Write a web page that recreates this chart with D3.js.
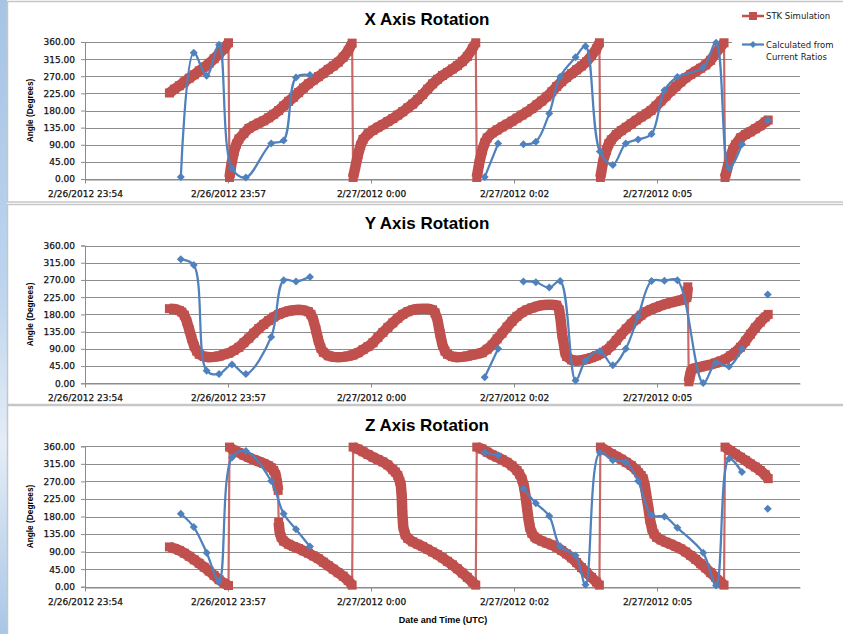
<!DOCTYPE html>
<html>
<head>
<meta charset="utf-8">
<script src="https://cdn.jsdelivr.net/npm/d3@7"></script>
<style>
  body { margin: 0; background: #fff; }
  svg { display: block; }
</style>
</head>
<body>
<div id="chart"></div>
<script>
// minutes after 2/26/2012 23:54, angle in degrees

const tickMinutes = [0, 2.88, 5.76, 8.64, 11.52];
const tickLabels = ["2/26/2012 23:54", "2/26/2012 23:57", "2/27/2012 0:00", "2/27/2012 0:02", "2/27/2012 0:05"];
const angleTicks = [0, 45, 90, 135, 180, 225, 270, 315, 360];
const titles = ["X Axis Rotation", "Y Axis Rotation", "Z Axis Rotation"];
const seriesNames = ["STK Simulation", "Calculated from\nCurrent Ratios"];

// STK simulation, [minute, angle]
const stkX = [
  [1.70,226],[1.80,236],[1.90,245],[2.00,255],[2.10,265],[2.20,274],[2.30,284],[2.40,294],[2.50,304],[2.60,316],[2.70,329],[2.80,342],[2.89,358],
  [2.91,4],[2.95,40],[3.00,72],[3.05,92],[3.10,105],[3.20,120],[3.30,133],[3.40,140],[3.50,147],[3.60,153],[3.70,161],[3.80,170],[3.90,180],[4.00,192],[4.10,204],[4.20,215],[4.30,227],[4.40,239],[4.50,250],[4.60,260],[4.70,269],[4.80,278],[4.90,288],[5.00,297],[5.10,307],[5.20,320],[5.30,337],[5.38,357],
  [5.40,4],[5.45,35],[5.50,65],[5.55,88],[5.60,104],[5.70,119],[5.80,128],[5.90,136],[6.00,143],[6.10,151],[6.20,159],[6.30,168],[6.40,177],[6.50,187],[6.60,197],[6.70,209],[6.80,222],[6.90,236],[7.00,250],[7.10,262],[7.20,272],[7.30,280],[7.40,289],[7.50,298],[7.60,309],[7.70,322],[7.80,342],[7.87,358],
  [7.89,4],[7.94,42],[8.00,75],[8.05,95],[8.10,108],[8.20,121],[8.30,129],[8.40,137],[8.50,144],[8.60,152],[8.70,160],[8.80,168],[8.90,176],[9.00,185],[9.10,195],[9.20,205],[9.30,216],[9.40,229],[9.50,243],[9.60,256],[9.70,267],[9.80,277],[9.90,287],[10.00,297],[10.10,308],[10.20,324],[10.30,342],[10.36,358],
  [10.38,4],[10.44,50],[10.50,75],[10.55,93],[10.60,103],[10.70,117],[10.80,127],[10.90,136],[11.00,145],[11.10,154],[11.20,163],[11.30,171],[11.40,180],[11.50,192],[11.60,205],[11.70,218],[11.80,231],[11.90,243],[12.00,255],[12.10,266],[12.20,275],[12.30,283],[12.40,291],[12.50,300],[12.60,312],[12.70,330],[12.80,347],[12.87,358],
  [12.89,4],[12.94,30],[13.00,58],[13.05,78],[13.10,90],[13.20,108],[13.30,117],[13.40,124],[13.50,132],[13.60,140],[13.70,150],[13.76,155]
];

const stkY = [
  [1.70,195],[1.80,194],[1.90,190],[1.95,186],[2.00,178],[2.05,162],[2.10,140],[2.15,117],[2.20,97],[2.25,84],[2.30,76],[2.40,70],[2.50,68],[2.60,69],[2.70,71],[2.80,75],[2.90,79],
  [3.00,86],[3.10,94],[3.20,106],[3.30,118],[3.40,131],[3.50,143],[3.60,154],[3.70,164],[3.80,173],[3.90,180],[4.00,185],[4.10,189],[4.20,191],[4.30,192],[4.40,191],[4.50,187],
  [4.55,180],[4.60,165],[4.65,140],[4.70,112],[4.75,92],[4.80,81],[4.90,72],[5.00,69],[5.10,68],[5.20,69],[5.30,71],[5.40,74],[5.50,80],[5.60,88],[5.70,96],[5.80,106],[5.90,120],
  [6.00,133],[6.10,146],[6.20,158],[6.30,170],[6.40,180],[6.50,187],[6.60,192],[6.70,194],[6.80,195],[6.90,195],[7.00,192],[7.05,184],[7.10,165],[7.15,130],[7.20,100],[7.25,84],
  [7.30,76],[7.40,70],[7.50,68],[7.60,69],[7.70,71],[7.80,74],[7.90,77],[8.00,80],[8.10,89],[8.20,100],[8.30,116],[8.40,131],[8.50,147],[8.60,162],[8.70,175],[8.80,185],[8.90,192],
  [9.00,197],[9.10,201],[9.20,204],[9.30,205],[9.40,205],[9.50,204],[9.55,192],[9.58,165],[9.61,128],[9.64,105],[9.67,80],[9.70,70],[9.80,61],[9.90,59],[10.00,60],[10.10,63],
  [10.20,67],[10.30,72],[10.40,78],[10.50,86],[10.60,98],[10.70,112],[10.80,128],[10.90,142],[11.00,155],[11.10,167],[11.20,178],[11.30,187],[11.40,193],[11.50,198],[11.60,203],
  [11.70,207],[11.80,211],[11.90,214],[12.00,217],[12.08,221],[12.12,224],[12.14,252],[12.16,4],[12.18,18],[12.20,30],[12.25,38],[12.30,40],[12.40,43],[12.50,46],[12.60,49],
  [12.70,53],[12.80,58],[12.90,63],[13.00,72],[13.10,81],[13.20,94],[13.30,110],[13.40,128],[13.50,145],[13.60,160],[13.70,173],[13.76,180]
];

const stkZ = [
  [1.70,102],[1.80,98],[1.90,93],[2.00,86],[2.10,78],[2.20,69],[2.30,60],[2.40,50],[2.50,40],[2.60,29],[2.70,18],[2.80,9],[2.89,3],
  [2.91,358],[3.00,350],[3.10,344],[3.20,337],[3.30,331],[3.40,326],[3.50,321],[3.60,316],[3.70,310],[3.75,305],[3.80,298],[3.84,287],[3.87,266],[3.89,247],[3.90,165],[3.92,140],[3.95,127],
  [4.00,117],[4.10,109],[4.20,103],[4.30,98],[4.40,92],[4.50,86],[4.60,79],[4.70,72],[4.80,63],[4.90,54],[5.00,45],[5.10,36],[5.20,27],[5.30,16],[5.38,4],
  [5.40,358],[5.50,353],[5.60,346],[5.70,339],[5.80,332],[5.90,326],[6.00,320],[6.10,312],[6.20,300],[6.25,294],[6.30,285],[6.34,270],[6.36,262],[6.38,230],[6.39,191],[6.41,153],[6.45,133],
  [6.50,124],[6.60,115],[6.70,109],[6.80,103],[6.90,96],[7.00,89],[7.10,82],[7.20,74],[7.30,65],[7.40,56],[7.50,46],[7.60,35],[7.70,24],[7.80,12],[7.87,4],
  [7.89,358],[8.00,353],[8.10,345],[8.20,338],[8.30,332],[8.40,326],[8.50,319],[8.60,310],[8.70,298],[8.75,289],[8.80,276],[8.84,258],[8.87,235],[8.90,205],[8.93,175],[8.96,152],
  [9.00,137],[9.06,127],[9.10,123],[9.20,117],[9.30,112],[9.40,107],[9.50,101],[9.60,93],[9.70,84],[9.80,74],[9.90,62],[10.00,49],[10.10,36],[10.20,24],[10.30,12],[10.36,4],
  [10.38,358],[10.50,349],[10.60,341],[10.70,334],[10.80,327],[10.90,319],[11.00,311],[11.10,300],[11.15,292],[11.20,285],[11.24,277],[11.28,255],[11.31,230],[11.35,200],[11.38,172],
  [11.42,148],[11.46,135],[11.51,127],[11.60,120],[11.70,114],[11.80,109],[11.90,103],[12.00,97],[12.10,89],[12.20,80],[12.30,70],[12.40,59],[12.50,48],[12.60,36],[12.70,24],[12.80,12],[12.87,4],
  [12.89,358],[13.00,349],[13.10,340],[13.20,332],[13.30,324],[13.40,315],[13.50,307],[13.60,298],[13.70,287],[13.76,277]
];

// calculated from current ratios (null = no reading)
const calcTime = [1.93, 2.19, 2.45, 2.70, 2.96, 3.24, 3.75, 4.00, 4.25, 4.53, 6.30, 8.05, 8.32, 8.57, 8.83, 9.08, 9.35, 9.57, 9.88, 10.08, 10.37, 10.63, 10.89, 11.14, 11.41, 11.67, 11.93, 12.45, 12.71, 12.97, 13.23, 13.49, 13.75];
const calcX = [5, 332, 271, 353, 28, 4, 93, 101, 267, 273, null, 5, 93, null, 91, 98, 172, 269, 320, 349, 72, 37, 93, 104, 118, 233, 268, 293, 358, 28, 91, null, 155];
const calcY = [324, 309, 33, 24, 49, 24, 121, 269, 266, 278, null, 16, 90, null, 266, 264, 250, 267, 7, 59, 84, 47, 90, 175, 267, 268, 269, 1, 54, 44, 90, null, 232];
const calcZ = [187, 153, 87, 14, 331, 348, 271, 187, 147, 103, null, 344, 337, null, 251, 214, 181, 103, 80, 5, 344, 324, 320, 271, 183, 180, 151, 87, 3, 328, 294, null, 200];

const width = 843, height = 634;
const red = "#C0504D", blue = "#4F81BD", gridColor = "#8c8c8c";

// panel layout
const layout = [
  { frameTop: 1.5, frameBottom: 202, titleY: 25, top: 42, bottom: 179 },
  { frameTop: 204.5, frameBottom: 404.5, titleY: 229, top: 245.5, bottom: 383.3 },
  { frameTop: 405.5, frameBottom: 700, titleY: 431, top: 446.3, bottom: 586.7 }
];
const sims = [stkX, stkY, stkZ];
const calcs = [calcX, calcY, calcZ];

const svg = d3.select("#chart").append("svg")
  .attr("width", width)
  .attr("height", height);

// desktop strip on the left edge
const grad = svg.append("defs").append("linearGradient")
  .attr("id", "desk").attr("x1", 0).attr("y1", 0).attr("x2", 0).attr("y2", 1);
grad.append("stop").attr("offset", 0).attr("stop-color", "#a7c4e4");
grad.append("stop").attr("offset", 0.45).attr("stop-color", "#bcd4ee");
grad.append("stop").attr("offset", 0.7).attr("stop-color", "#e4edf7");
grad.append("stop").attr("offset", 1).attr("stop-color", "#a9c6e6");
svg.append("rect").attr("x", 0).attr("y", 0).attr("width", 7).attr("height", height).attr("fill", "url(#desk)");

const x = d3.scaleLinear().domain([0, 14.4]).range([85, 800]);

layout.forEach(function(p, i) {
  const g = svg.append("g");
  const y = d3.scaleLinear().domain([0, 360]).range([p.bottom, p.top]);

  g.append("rect")
    .attr("x", 7.5).attr("y", p.frameTop)
    .attr("width", 900).attr("height", p.frameBottom - p.frameTop)
    .attr("fill", "#fff").attr("stroke", "#c6c6c6").attr("stroke-width", 1.5);

  // gridlines
  g.selectAll(".grid")
    .data(angleTicks)
    .enter().append("line")
    .attr("x1", x(0)).attr("x2", x(14.4))
    .attr("y1", function(d) { return Math.round(y(d)) + 0.5; })
    .attr("y2", function(d) { return Math.round(y(d)) + 0.5; })
    .attr("stroke", gridColor).attr("stroke-width", 1);

  // y axis
  const yAxis = g.append("g")
    .attr("transform", "translate(" + x(0) + ",0)")
    .call(d3.axisLeft(y).tickValues(angleTicks).tickFormat(d3.format(".2f")).tickSize(4).tickPadding(6));
  // x axis
  const xAxis = g.append("g")
    .attr("transform", "translate(0," + (Math.round(y(0)) + 0.5) + ")")
    .call(d3.axisBottom(x).tickValues(tickMinutes)
      .tickFormat(function(d, k) { return tickLabels[k]; })
      .tickSizeInner(4).tickSizeOuter(0).tickPadding(7.5));
  [yAxis, xAxis].forEach(function(a) {
    a.select(".domain").attr("stroke", gridColor);
    a.selectAll(".tick line").attr("stroke", gridColor);
    a.selectAll("text").attr("font-family", "DejaVu Sans").attr("font-size", 9)
      .attr("fill", "#111").attr("stroke", "#111").attr("stroke-width", 0.25);
  });

  g.append("text")
    .attr("transform", "translate(33," + ((p.top + p.bottom) / 2) + ") rotate(-90)")
    .attr("text-anchor", "middle")
    .attr("font-family", "Liberation Sans").attr("font-weight", "bold").attr("font-size", 8.3)
    .text("Angle (Degrees)");

  g.append("text")
    .attr("x", 427).attr("y", p.titleY)
    .attr("text-anchor", "middle")
    .attr("font-family", "Liberation Sans").attr("font-weight", "bold").attr("font-size", 17)
    .text(titles[i]);

  // STK simulation: thin connecting line, thick band, square markers
  const sim = sims[i];
  const line = d3.line().x(function(d) { return x(d[0]); }).y(function(d) { return y(d[1]); });
  g.append("path").attr("d", line(sim))
    .attr("fill", "none").attr("stroke", red).attr("stroke-width", 2.2).attr("stroke-opacity", 0.85);

  const runs = [];
  let run = [sim[0]];
  for (let k = 1; k < sim.length; k++) {
    if (Math.abs(sim[k][1] - sim[k - 1][1]) > 70) { runs.push(run); run = []; }
    run.push(sim[k]);
  }
  runs.push(run);
  g.selectAll(".band")
    .data(runs)
    .enter().append("path")
    .attr("d", line)
    .attr("fill", "none").attr("stroke", red).attr("stroke-width", 10.5)
    .attr("stroke-linejoin", "round").attr("stroke-linecap", "butt");
  g.selectAll(".sq")
    .data(sim)
    .enter().append("rect")
    .attr("x", function(d) { return x(d[0]) - 4.5; })
    .attr("y", function(d) { return y(d[1]) - 4.5; })
    .attr("width", 9).attr("height", 9)
    .attr("fill", red);

  // calculated series, smoothed like the spreadsheet line
  const calc = calcTime.map(function(t, k) { return [t, calcs[i][k]]; });
  const calcLine = d3.line()
    .defined(function(d) { return d[1] != null; })
    .curve(d3.curveCatmullRom.alpha(0.5))
    .x(function(d) { return x(d[0]); })
    .y(function(d) { return y(d[1]); });
  g.append("path").attr("d", calcLine(calc))
    .attr("fill", "none").attr("stroke", blue).attr("stroke-width", 2.25).attr("stroke-linejoin", "round");
  g.selectAll(".dia")
    .data(calc.filter(function(d) { return d[1] != null; }))
    .enter().append("path")
    .attr("d", "M0,-4L4,0L0,4L-4,0Z")
    .attr("transform", function(d) { return "translate(" + x(d[0]) + "," + y(d[1]) + ")"; })
    .attr("fill", blue);

  // legend sits in the first panel
  if (i === 0) {
    const lg = g.append("g");
    lg.append("rect").attr("x", 732).attr("y", 4).attr("width", 120).attr("height", 62).attr("fill", "#fff");
    lg.append("line").attr("x1", 742).attr("x2", 764).attr("y1", 16).attr("y2", 16)
      .attr("stroke", red).attr("stroke-width", 2.5);
    lg.append("rect").attr("x", 749).attr("y", 12).attr("width", 8).attr("height", 8).attr("fill", red);
    lg.append("line").attr("x1", 742).attr("x2", 764).attr("y1", 44.5).attr("y2", 44.5)
      .attr("stroke", blue).attr("stroke-width", 2.25);
    lg.append("path").attr("d", "M0,-3.5L3.5,0L0,3.5L-3.5,0Z")
      .attr("transform", "translate(753,44.5)").attr("fill", blue);
    const legendText = lg.append("g")
      .attr("font-family", "DejaVu Sans").attr("font-size", 8.5).attr("fill", "#1a1a1a");
    legendText.append("text").attr("x", 766).attr("y", 19).text(seriesNames[0]);
    seriesNames[1].split("\n").forEach(function(s, k) {
      legendText.append("text").attr("x", 766).attr("y", 48 + k * 12).text(s);
    });
  }
});

svg.append("text")
  .attr("x", 443).attr("y", 623)
  .attr("text-anchor", "middle")
  .attr("font-family", "Liberation Sans").attr("font-weight", "bold").attr("font-size", 9)
  .text("Date and Time (UTC)");
</script>
</body>
</html>
